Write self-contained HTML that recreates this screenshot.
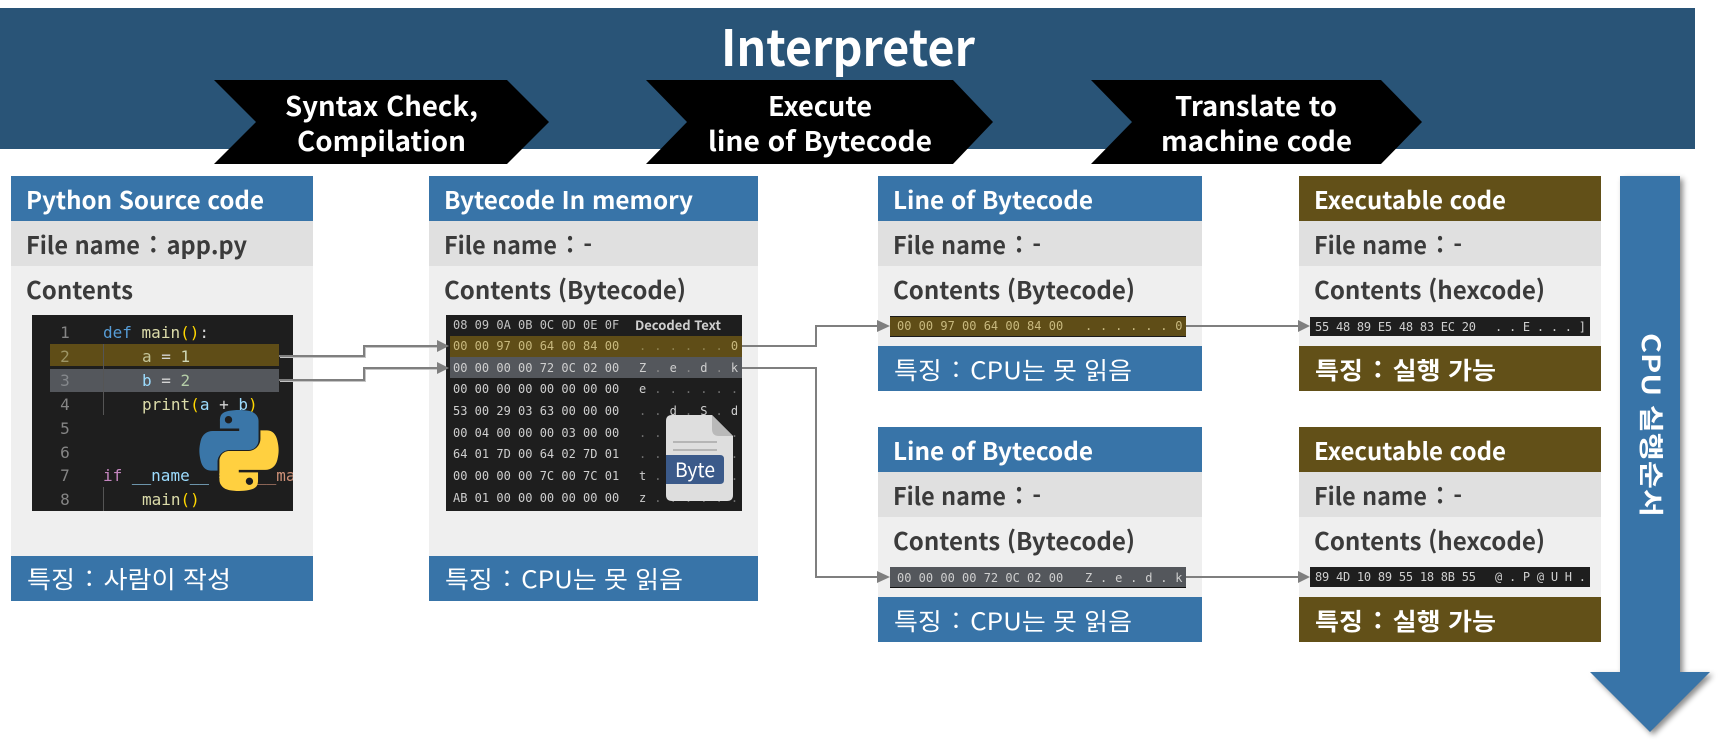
<!DOCTYPE html>
<html lang="ko"><head><meta charset="utf-8"><title>Interpreter</title>
<style>
html,body{margin:0;padding:0;background:#fff;width:1724px;height:745px;overflow:hidden}
svg{display:block}
text{font-family:"Noto Sans CJK KR","Liberation Sans",sans-serif}
.b{font-weight:700;font-size:24px;fill:#3b3b3b}
.w{fill:#fff}
.r{font-weight:400;font-size:24px;fill:#fff}
.c{font-weight:700;font-size:27px;fill:#fff}
.sp{word-spacing:3px}
text.m{font-family:"DejaVu Sans Mono","Liberation Mono",monospace;font-size:12px;fill:#cfcfcf}
text.k{font-family:"DejaVu Sans Mono","Liberation Mono",monospace;font-size:16px;fill:#d4d4d4}
.l{fill:none;stroke:#7f7f7f;stroke-width:2}
.s{fill:none;stroke:#c4c4c4;stroke-width:1.500}
</style></head><body>
<svg width="1724" height="745" viewBox="0 0 1724 745" xmlns="http://www.w3.org/2000/svg">
<defs><clipPath id="cc"><rect x="32" y="315" width="261" height="196"/></clipPath></defs>
<rect x="0" y="8" width="1695" height="141" fill="#295477"/>
<text x="721" y="66" font-size="50" font-weight="700" fill="#fff" textLength="254" lengthAdjust="spacingAndGlyphs">Interpreter</text>
<polygon points="214,80 507,80 549,122 507,164 214,164 256,122" fill="#000"/>
<polygon points="646,80 953,80 993,122 953,164 646,164 687,122" fill="#000"/>
<polygon points="1091,80 1381,80 1422,122 1381,164 1091,164 1132,122" fill="#000"/>
<text class="c" x="285" y="116" textLength="193" lengthAdjust="spacingAndGlyphs">Syntax Check,</text>
<text class="c" x="297" y="151" textLength="169" lengthAdjust="spacingAndGlyphs">Compilation</text>
<text class="c" x="768" y="116" textLength="104" lengthAdjust="spacingAndGlyphs">Execute</text>
<text class="c" x="708" y="151" textLength="224" lengthAdjust="spacingAndGlyphs">line of Bytecode</text>
<text class="c" x="1175" y="116" textLength="162" lengthAdjust="spacingAndGlyphs">Translate to</text>
<text class="c" x="1161" y="151" textLength="191" lengthAdjust="spacingAndGlyphs">machine code</text>

<!-- card 1 -->
<rect x="11" y="266" width="302" height="290" fill="#efefef"/>
<rect x="11" y="221" width="302" height="45" fill="#e0e0e0"/>
<rect x="11" y="176" width="302" height="45" fill="#3874a8"/>
<rect x="11" y="556" width="302" height="45" fill="#3874a8"/>
<text class="b w" x="26" y="209" textLength="238" lengthAdjust="spacingAndGlyphs">Python Source code</text>
<text class="b" x="26" y="254" textLength="221" lengthAdjust="spacingAndGlyphs">File name<tspan class="sp"> : </tspan>app.py</text>
<text class="b" x="26" y="299" textLength="107" lengthAdjust="spacingAndGlyphs">Contents</text>
<text class="r" x="27" y="588" textLength="204" lengthAdjust="spacingAndGlyphs">특징<tspan class="sp"> : </tspan>사람이 작성</text>

<!-- code image -->
<rect x="32" y="315" width="261" height="196" fill="#1e1e1e"/>
<rect x="50" y="344" width="229" height="22" fill="#5f4d17"/>
<rect x="50" y="369" width="229" height="23" fill="#54575c"/>
<path d="M103.500 344V415M103.500 487V511" stroke="#555" stroke-width="1" fill="none"/>
<g text-anchor="middle">
<text class="k" x="65" y="338" style="fill:#858585">1</text>
<text class="k" x="65" y="362" style="fill:#9d9565">2</text>
<text class="k" x="65" y="386" style="fill:#85888c">3</text>
<text class="k" x="65" y="410" style="fill:#858585">4</text>
<text class="k" x="65" y="434" style="fill:#858585">5</text>
<text class="k" x="65" y="458" style="fill:#858585">6</text>
<text class="k" x="65" y="481" style="fill:#858585">7</text>
<text class="k" x="65" y="505" style="fill:#858585">8</text>
</g>
<g clip-path="url(#cc)">
<text class="k" x="103" y="338"><tspan style="fill:#569cd6">def</tspan> <tspan style="fill:#dcdcaa">main</tspan><tspan style="fill:#ffd700">()</tspan>:</text>
<text class="k" x="142" y="362" style="fill:#c4c59a">a <tspan style="fill:#d4d4d4">=</tspan> <tspan style="fill:#cfd8b8">1</tspan></text>
<text class="k" x="142" y="386"><tspan style="fill:#9cdcfe">b</tspan> = <tspan style="fill:#b5cea8">2</tspan></text>
<text class="k" x="142" y="410"><tspan style="fill:#dcdcaa">print</tspan><tspan style="fill:#ffd700">(</tspan><tspan style="fill:#9cdcfe">a</tspan> + <tspan style="fill:#9cdcfe">b</tspan><tspan style="fill:#ffd700">)</tspan></text>
<text class="k" x="103" y="481"><tspan style="fill:#c586c0">if</tspan> <tspan style="fill:#9cdcfe">__name__</tspan> <tspan style="fill:#d4d4d4">==</tspan> <tspan style="fill:#ce9178" x="257">__ma</tspan></text>
<text class="k" x="142" y="505"><tspan style="fill:#dcdcaa">main</tspan><tspan style="fill:#ffd700">()</tspan></text>
</g>
<!-- python logo -->
<g transform="translate(199,410) scale(.727,.736)">
<path d="M54.900 0C50.300 0 45.900.4 42.100 1.100 30.800 3.100 28.800 7.300 28.800 15V25.200H55.300V28.600H18.900C11.200 28.600 4.400 33.200 2.300 42 -.1 52.100-.2 58.400 2.300 68.900 4.200 76.700 8.700 82.300 16.400 82.300H25.500V70.800C25.500 62 33.100 54.300 42.100 54.300H68.600C76 54.300 81.900 48.200 81.900 40.800V15C81.900 7.800 75.800 2.400 68.600 1.200 64 .4 59.500 0 54.900 0ZM40.600 8.200C43.300 8.200 45.600 10.500 45.600 13.200 45.600 16 43.400 18.200 40.600 18.200 37.800 18.200 35.600 16 35.600 13.200 35.600 10.400 37.800 8.200 40.600 8.200Z" fill="#3a76a8" fill-rule="evenodd"/>
<path d="M54.900 0C50.300 0 45.900.4 42.100 1.100 30.800 3.100 28.800 7.300 28.800 15V25.200H55.300V28.600H18.900C11.200 28.600 4.400 33.200 2.300 42 -.1 52.100-.2 58.400 2.300 68.900 4.200 76.700 8.700 82.300 16.400 82.300H25.500V70.800C25.500 62 33.100 54.300 42.100 54.300H68.600C76 54.300 81.900 48.200 81.900 40.800V15C81.900 7.800 75.800 2.400 68.600 1.200 64 .4 59.500 0 54.900 0ZM40.600 8.200C43.300 8.200 45.600 10.500 45.600 13.200 45.600 16 43.400 18.200 40.600 18.200 37.800 18.200 35.600 16 35.600 13.200 35.600 10.400 37.800 8.200 40.600 8.200Z" fill="#ffd040" fill-rule="evenodd" transform="rotate(180 55 55)"/>
</g>

<!-- card 2 -->
<rect x="429" y="266" width="329" height="290" fill="#efefef"/>
<rect x="429" y="221" width="329" height="45" fill="#e0e0e0"/>
<rect x="429" y="176" width="329" height="45" fill="#3874a8"/>
<rect x="429" y="556" width="329" height="45" fill="#3874a8"/>
<text class="b w" x="444" y="209" textLength="249" lengthAdjust="spacingAndGlyphs">Bytecode In memory</text>
<text class="b" x="444" y="254" textLength="148" lengthAdjust="spacingAndGlyphs">File name<tspan class="sp"> : </tspan>-</text>
<text class="b" x="444" y="299" textLength="242" lengthAdjust="spacingAndGlyphs">Contents (Bytecode)</text>
<text class="r" x="445" y="588" textLength="238" lengthAdjust="spacingAndGlyphs">특징<tspan class="sp"> : </tspan>CPU는 못 읽음</text>

<!-- hex image -->
<rect x="446" y="315" width="296" height="196" fill="#1e1e1e"/>
<rect x="450" y="336" width="292" height="21" fill="#5f4d17"/>
<rect x="450" y="357" width="292" height="21" fill="#54575c"/>
<text class="m" x="453" y="329" style="fill:#c4c4c4">08 09 0A 0B 0C 0D 0E 0F</text>
<text class="m" x="635" y="330" textLength="86" lengthAdjust="spacingAndGlyphs" style="font-weight:700;font-size:13px;font-family:'Noto Sans CJK KR',sans-serif">Decoded Text</text>
<text class="m" x="453" y="350" style="fill:#c8b97f">00 00 97 00 64 00 84 00</text>
<text class="m" x="453" y="372">00 00 00 00 72 0C 02 00</text>
<text class="m" x="453" y="393">00 00 00 00 00 00 00 00</text>
<text class="m" x="453" y="415">53 00 29 03 63 00 00 00</text>
<text class="m" x="453" y="437">00 04 00 00 00 03 00 00</text>
<text class="m" x="453" y="458">64 01 7D 00 64 02 7D 01</text>
<text class="m" x="453" y="480">00 00 00 00 7C 00 7C 01</text>
<text class="m" x="453" y="502">AB 01 00 00 00 00 00 00</text>
<g style="letter-spacing:.43px">
<text class="m" x="639" y="350" style="fill:#8f8350">. . . . . . <tspan style="fill:#c8b97f">0</tspan></text>
<text class="m" x="639" y="372">Z <tspan style="fill:#8a8a8a">.</tspan> e <tspan style="fill:#8a8a8a">.</tspan> d <tspan style="fill:#8a8a8a">.</tspan> k</text>
<text class="m" x="639" y="393" style="fill:#707070"><tspan style="fill:#cfcfcf">e</tspan> . . . . . .</text>
<text class="m" x="639" y="415" style="fill:#707070">. . <tspan style="fill:#cfcfcf">d</tspan> . <tspan style="fill:#cfcfcf">S</tspan> . <tspan style="fill:#cfcfcf">d</tspan></text>
<text class="m" x="639" y="437" style="fill:#707070">. . . . . . .</text>
<text class="m" x="639" y="458" style="fill:#707070">. . . . . . .</text>
<text class="m" x="639" y="480" style="fill:#707070"><tspan style="fill:#cfcfcf">t</tspan> . . . . . .</text>
<text class="m" x="639" y="502" style="fill:#707070"><tspan style="fill:#cfcfcf">z</tspan> . . . . . .</text>
</g>
<!-- byte file icon -->
<path d="M672 415H712L733 436V495Q733 501 727 501H672Q666 501 666 495V421Q666 415 672 415Z" fill="#dedede"/>
<path d="M712 415L733 436H719Q712 436 712 429Z" fill="#b9b9b9"/>
<path d="M673 442H717M673 450H717" stroke="#b5b5b5" stroke-width="2"/>
<path d="M666 455H720Q724 455 724 459V480Q724 484 720 484H666Z" fill="#3b5a8a"/>
<text x="675" y="477" font-size="20" fill="#fff" textLength="40" lengthAdjust="spacingAndGlyphs">Byte</text>

<!-- cards 3 -->
<rect x="878" y="266" width="324" height="80" fill="#efefef"/>
<rect x="878" y="221" width="324" height="45" fill="#e0e0e0"/>
<rect x="878" y="176" width="324" height="45" fill="#3874a8"/>
<rect x="878" y="346" width="324" height="45" fill="#3874a8"/>
<text class="b w" x="893" y="209" textLength="200" lengthAdjust="spacingAndGlyphs">Line of Bytecode</text>
<text class="b" x="893" y="254" textLength="148" lengthAdjust="spacingAndGlyphs">File name<tspan class="sp"> : </tspan>-</text>
<text class="b" x="893" y="299" textLength="242" lengthAdjust="spacingAndGlyphs">Contents (Bytecode)</text>
<text class="r" x="894" y="379" textLength="238" lengthAdjust="spacingAndGlyphs">특징<tspan class="sp"> : </tspan>CPU는 못 읽음</text>

<rect x="878" y="517" width="324" height="80" fill="#efefef"/>
<rect x="878" y="472" width="324" height="45" fill="#e0e0e0"/>
<rect x="878" y="427" width="324" height="45" fill="#3874a8"/>
<rect x="878" y="597" width="324" height="45" fill="#3874a8"/>
<text class="b w" x="893" y="460" textLength="200" lengthAdjust="spacingAndGlyphs">Line of Bytecode</text>
<text class="b" x="893" y="505" textLength="148" lengthAdjust="spacingAndGlyphs">File name<tspan class="sp"> : </tspan>-</text>
<text class="b" x="893" y="550" textLength="242" lengthAdjust="spacingAndGlyphs">Contents (Bytecode)</text>
<text class="r" x="894" y="630" textLength="238" lengthAdjust="spacingAndGlyphs">특징<tspan class="sp"> : </tspan>CPU는 못 읽음</text>

<rect x="890" y="316" width="296" height="21" fill="#5f4d17"/>
<path d="M890 316.500H1186M890 336.500H1186" stroke="#1a1a1a"/>
<text class="m" x="897" y="330" style="fill:#c8b97f">00 00 97 00 64 00 84 00</text>
<text class="m" x="1085" y="330" style="fill:#c8b97f;letter-spacing:.3px">. . . . . . 0</text>
<rect x="890" y="567" width="296" height="21" fill="#54575c"/>
<path d="M890 587.500H1186" stroke="#111"/>
<text class="m" x="897" y="582">00 00 00 00 72 0C 02 00</text>
<text class="m" x="1085" y="582" style="letter-spacing:.3px">Z . e . d . k</text>

<!-- cards 4 -->
<rect x="1299" y="266" width="302" height="80" fill="#efefef"/>
<rect x="1299" y="221" width="302" height="45" fill="#e0e0e0"/>
<rect x="1299" y="176" width="302" height="45" fill="#625018"/>
<rect x="1299" y="346" width="302" height="45" fill="#625018"/>
<text class="b w" x="1314" y="209" textLength="192" lengthAdjust="spacingAndGlyphs">Executable code</text>
<text class="b" x="1314" y="254" textLength="148" lengthAdjust="spacingAndGlyphs">File name<tspan class="sp"> : </tspan>-</text>
<text class="b" x="1314" y="299" textLength="231" lengthAdjust="spacingAndGlyphs">Contents (hexcode)</text>
<text class="b w" x="1315" y="379" textLength="181" lengthAdjust="spacingAndGlyphs">특징<tspan class="sp"> : </tspan>실행 가능</text>
<rect x="1299" y="517" width="302" height="80" fill="#efefef"/>
<rect x="1299" y="472" width="302" height="45" fill="#e0e0e0"/>
<rect x="1299" y="427" width="302" height="45" fill="#625018"/>
<rect x="1299" y="597" width="302" height="45" fill="#625018"/>
<text class="b w" x="1314" y="460" textLength="192" lengthAdjust="spacingAndGlyphs">Executable code</text>
<text class="b" x="1314" y="505" textLength="148" lengthAdjust="spacingAndGlyphs">File name<tspan class="sp"> : </tspan>-</text>
<text class="b" x="1314" y="550" textLength="231" lengthAdjust="spacingAndGlyphs">Contents (hexcode)</text>
<text class="b w" x="1315" y="630" textLength="181" lengthAdjust="spacingAndGlyphs">특징<tspan class="sp"> : </tspan>실행 가능</text>

<rect x="1310" y="317" width="280" height="19" fill="#1e1e1e"/>
<text class="m" x="1315" y="331" textLength="161" lengthAdjust="spacing">55 48 89 E5 48 83 EC 20</text>
<text class="m" x="1495" y="331" textLength="91" lengthAdjust="spacing">. . E . . . ]</text>
<rect x="1310" y="567" width="280" height="20" fill="#1e1e1e"/>
<text class="m" x="1315" y="581" textLength="161" lengthAdjust="spacing">89 4D 10 89 55 18 8B 55</text>
<text class="m" x="1495" y="581" textLength="91" lengthAdjust="spacing">@ . P @ U H .</text>

<!-- connectors -->
<path class="s" d="M280 357.200H365.200V347.200H437M280 381.200H365.200V369.200H437"/>
<path class="l" d="M279 356H364V346H438M279 380H364V368H438"/>
<polygon points="437,340 449,346 437,352" fill="#7f7f7f"/>
<polygon points="437,362 449,368 437,374" fill="#7f7f7f"/>
<path class="l" d="M742 346H816V326H878M742 368H816V577H878"/>
<polygon points="877,320 890,326 877,332" fill="#7f7f7f"/>
<polygon points="877,571 890,577 877,583" fill="#7f7f7f"/>
<path class="l" d="M1186 326H1299M1186 577H1299"/>
<polygon points="1298,320 1310,326 1298,332" fill="#7f7f7f"/>
<polygon points="1298,571 1310,577 1298,583" fill="#7f7f7f"/>

<!-- CPU arrow -->
<polygon points="1620,176 1680,176 1680,672 1710,672 1650,732 1590,672 1620,672" fill="#3874a8" style="filter:drop-shadow(3px 3px 3px rgba(0,0,0,.45))"/>
<text transform="translate(1642,333) rotate(90)" font-size="25" font-weight="700" fill="#fff" textLength="184" lengthAdjust="spacingAndGlyphs">CPU 실행순서</text>
</svg>
</body></html>
